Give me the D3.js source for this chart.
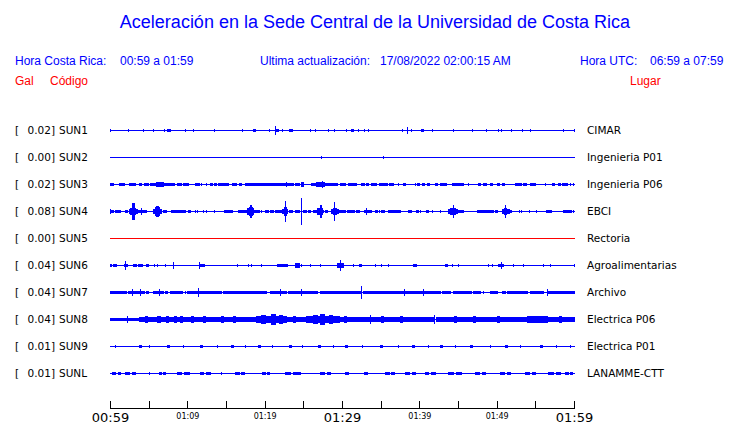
<!DOCTYPE html>
<html><head><meta charset="utf-8">
<script src="https://cdn.jsdelivr.net/npm/d3@7"></script>
<style>
html,body{margin:0;padding:0;background:#fff;}
svg{display:block;}
</style></head>
<body>
<svg id="c" width="740" height="423"></svg>
<script>
// ---- data ----
const codes  = ["SUN1","SUN2","SUN3","SUN4","SUN5","SUN6","SUN7","SUN8","SUN9","SUNL"];
const peaks  = ["0.02","0.00","0.02","0.08","0.00","0.04","0.04","0.04","0.01","0.01"];
const places = ["CIMAR","Ingenieria P01","Ingenieria P06","EBCI","Rectoria","Agroalimentarias","Archivo","Electrica P06","Electrica P01","LANAMME-CTT"];
const tickMinutes = [0,10,20,30,40,50,60];
const tickLabels  = ["00:59","01:09","01:19","01:29","01:39","01:49","01:59"];
// events per station: [start minute, end minute, half amplitude]
const sun1 = [[0,0,1],[2.3,2.3,1],[4.25,4.25,1],[5.5,5.5,1],[7.0,7.0,1],[7.35,7.7,1],[9.7,9.7,1],[10.7,10.7,1],[13.4,13.4,1],[17.1,17.1,1],[18.5,18.8,1],[20.6,20.6,0.7],[21.3,21.3,4],[21.4,21.8,1.3],[22.3,22.3,0.7],[23.1,23.5,1.3],[25.8,25.8,1],[26.5,26.5,0.7],[28.2,28.2,1],[29.0,29.0,1],[30.5,30.5,1],[31.1,31.35,1],[32.1,32.1,0.7],[32.9,32.9,1],[33.4,33.4,0.7],[37.7,37.7,0.7],[38.4,38.4,3],[38.9,38.9,0.7],[40.2,40.5,1],[41.7,41.7,0.7],[44.3,44.3,1],[46.8,46.8,1],[48.6,48.6,1],[50.2,50.2,1],[50.6,50.6,0.7],[51.8,51.8,1],[53.3,53.3,1],[54.3,54.3,1],[58.6,58.6,0.7],[60,60,1]];
const sun2 = [[27.3,27.3,0.7],[35.3,35.3,0.7]];
const sun3 = [[0,0.4,1],[1.1,1.75,1],[2.5,3.3,1.3],[3.7,4.0,1],[4.35,4.9,1.3],[5.2,5.55,1],[5.75,8.35,1.3],[5.95,6.85,1.8],[8.65,9.2,1],[9.4,10.1,1.3],[11.0,11.5,1],[11.8,11.8,0.8],[12.4,12.4,0.8],[12.9,13.1,1],[13.4,13.7,1.3],[13.95,15.25,1.3],[15.8,16.3,1.3],[16.7,16.9,1],[17.4,22.15,1.3],[22.3,23.7,1.3],[22.7,22.7,2],[23.9,24.45,1.3],[24.65,24.85,2.3],[25.95,26.2,1],[26.25,28.85,1.3],[27.35,27.35,3.3],[26.6,27.6,1.8],[28.95,29.35,1.3],[29.7,30.35,1],[30.8,31.8,1.3],[32.4,32.8,1.3],[33.15,33.4,1],[33.7,33.95,1],[34.2,34.45,1],[34.8,35.85,1.3],[36.1,36.6,1.3],[37.25,37.25,0.8],[37.9,38.2,1],[39.4,39.4,1],[39.75,40.05,1],[40.4,40.6,1],[41.05,41.35,1],[42.0,42.3,1],[42.65,43.25,1.3],[43.5,43.5,0.8],[44.25,45.7,1.3],[46.3,46.3,0.8],[47.6,47.85,0.8],[48.2,48.6,1.3],[49.2,49.4,1],[50.1,50.4,1],[50.75,50.95,1],[52.35,53.1,1.3],[53.45,53.9,1],[54.3,54.95,1.3],[56.25,56.25,0.8],[57.1,57.4,1],[57.95,58.2,1],[58.4,59.05,1.3],[59.5,59.5,0.8],[59.9,59.9,1]];
const sun4 = [[0,0.4,1],[0,0,2],[0.6,1.3,1.3],[1.9,2.2,1],[2.45,3.5,1.6],[2.6,3.2,3],[2.8,3.0,8],[3.5,4.7,1.3],[3.95,3.95,3],[5.55,6.6,1.6],[5.8,6.3,3.5],[5.95,6.15,4.5],[6.85,7.05,1],[7.3,7.3,1],[7.9,9.75,1.3],[10.1,10.3,1],[10.95,10.95,1.3],[11.25,11.25,1.3],[12.0,12.0,0.8],[12.35,12.35,0.8],[13.5,13.5,1],[14.8,15.8,1.3],[16.55,18.7,1.3],[17.7,18.5,2.6],[17.95,18.35,4],[18.1,18.2,6],[18.9,19.35,1],[19.55,19.55,0.8],[20.0,20.4,1.3],[20.65,21.1,1],[21.3,21.5,1],[21.7,22.3,1.3],[22.3,23.0,2],[22.5,22.8,3.5],[22.65,22.65,10],[23.2,23.65,1.3],[23.9,24.45,1.3],[24.7,24.7,12.5],[24.9,25.3,1],[25.6,25.8,1],[26.25,27.55,1.3],[26.8,27.5,2.6],[27.15,27.3,5.5],[27.75,27.95,1],[28.6,29.5,1.6],[28.8,29.2,3],[28.95,28.95,9],[29.5,30.35,1.3],[30.6,31.45,1.2],[31.85,32.2,1],[32.8,33.7,1.4],[33.05,33.05,3],[34.25,34.45,1],[34.8,34.8,0.8],[35.1,35.5,1.3],[35.9,37.5,1.3],[38.55,38.95,1],[39.6,39.85,1],[40.15,40.15,0.8],[40.85,41.15,1],[41.6,41.6,0.8],[42.65,42.65,1],[43.7,44.8,1.6],[44.0,44.6,3],[44.3,44.3,6],[45.0,45.7,1.3],[47.4,47.75,1],[47.8,48.9,1.3],[49.1,49.45,1],[49.8,50.0,1],[50.65,51.5,1.6],[50.9,51.2,3],[51.05,51.05,5.5],[51.5,51.9,1.3],[52.9,52.9,0.8],[53.2,53.2,1],[54.2,54.2,1],[55.1,55.1,0.8],[56.4,57.0,1.3],[58.6,59.6,1.3],[59.9,59.9,1]];
const sun5 = [];
const sun6 = [[0,0.15,1],[0.45,0.8,1.3],[1.75,2.2,1.3],[1.9,1.9,4],[2.95,3.3,1.3],[3.6,4.15,1.3],[4.6,4.9,1.3],[5.7,5.7,1.3],[6.05,6.05,1.3],[7.05,7.05,1],[8.1,8.1,2.5],[11.5,12.1,1.3],[11.5,11.5,2.5],[16.45,16.45,1.3],[17.9,17.9,1],[18.25,18.25,0.8],[19.55,19.55,1],[21.6,22.15,1.3],[22.3,22.8,1.3],[22.9,22.9,0.8],[23.9,24.45,1.7],[24.75,24.75,1],[25.8,25.8,1],[27.2,27.2,1],[29.3,30.05,1.6],[29.7,29.7,5],[31.45,31.45,1],[32.2,32.5,1.3],[34.25,34.25,1],[35.0,35.0,1],[35.95,35.95,0.8],[39.2,39.55,1.3],[43.3,43.6,1.3],[44.2,44.2,1.3],[44.95,44.95,1.3],[48.85,48.85,1.3],[49.35,49.35,1.3],[50.2,50.85,1.3],[50.55,50.55,3],[52.05,52.05,0.8],[53.35,53.35,1.3],[55.95,55.95,1],[56.9,56.9,0.8],[60,60,0.8]];
const sun7 = [[0,2.1,1.3],[2.3,3.4,1.3],[2.85,2.85,2.5],[3.9,3.9,3],[3.4,4.45,1.3],[4.7,4.9,0.8],[5.55,6.85,1.3],[6.3,6.3,3],[7.05,7.3,1],[7.8,9.35,1.3],[9.75,9.75,0.8],[9.95,10.95,1.3],[11.35,11.35,4],[10.95,13.75,1.3],[13.95,14.4,0.8],[14.6,20.2,1.3],[20.65,21.5,1.3],[21.95,21.95,3],[21.75,22.8,1.3],[23.0,24.1,1.3],[24.65,24.65,2.5],[24.3,26.7,1.3],[27.1,32.3,1.3],[32.5,32.5,6],[32.75,37.9,1.3],[38.0,38.0,3],[38.1,39.65,1.3],[40.5,40.5,3],[39.85,42.65,1.3],[42.9,43.95,1.3],[44.4,46.75,1.3],[46.95,47.85,1],[48.25,48.25,0.8],[49.1,50.0,0.8],[50.65,51.05,1.3],[51.3,53.9,1.3],[54.3,56.0,1.3],[56.45,56.45,2.5],[56.7,60,1.3]];
const sun8 = [[0,3.8,1.3],[2.2,2.2,2.5],[3.8,6.0,1.7],[4.5,4.7,2.6],[6.0,9.85,1.7],[6.1,6.5,2.6],[7.2,7.5,2.6],[8.3,8.6,3],[9.0,9.3,2.6],[9.85,18.9,1.7],[10.5,10.8,2.6],[12.0,12.3,2.6],[14.3,14.6,2.6],[15.9,16.2,2.6],[18.9,22.8,2.6],[19.5,20.0,4],[20.8,21.3,5],[21.8,22.2,3.5],[22.8,25.4,2],[23.6,23.9,3],[25.4,29.7,2.6],[26.2,26.7,4],[27.1,27.6,5],[28.3,28.7,3.5],[29.7,33.15,1.7],[30.2,30.5,2.6],[33.6,33.6,4],[33.15,41.8,1.7],[35.0,35.3,2.6],[37.5,37.8,2.6],[41.9,41.9,3.5],[42.2,53.9,1.7],[44.5,44.8,2.6],[47.0,47.3,2.6],[50.0,50.3,2.6],[53.9,56.45,2.6],[54.5,55.5,3],[56.45,60,1.7],[58.0,58.3,2.6]];
const sun9 = [[0.6,0.6,1],[3.8,4.0,1],[5.1,5.1,1],[7.4,7.6,1],[9.4,9.4,1],[11.6,11.9,1],[13.9,13.9,1],[15.7,16.0,1],[17.4,17.4,1],[19.1,19.4,1],[20.9,20.9,1],[23.2,23.5,1],[24.8,24.8,1],[26.9,27.2,1],[28.8,28.8,1],[30.4,30.7,1],[32.6,32.6,1],[34.9,35.2,1],[37.2,37.2,1],[39.0,39.3,1],[41.1,41.1,1],[42.7,43.0,1],[44.6,44.6,1],[46.5,46.8,1],[49.1,49.1,1],[51.1,51.4,1],[53.0,53.0,1],[55.6,55.9,1],[57.7,57.7,1],[59.5,59.5,1]];
const sunL = [[0.2,0.6,1],[1.0,1.3,1],[1.9,2.4,1],[2.8,3.2,1],[5.1,5.1,1],[6.3,6.6,1],[6.9,7.1,1],[8.7,9.2,1],[9.6,10.3,1],[11.6,12.0,1],[12.4,12.9,1],[14.4,14.4,1],[16.1,16.6,1],[17.0,17.4,1],[19.6,20.0,1],[20.3,20.6,1],[22.6,23.2,1],[23.6,24.5,1],[27.1,27.6,1],[28.0,28.4,1],[30.4,30.8,1],[32.9,33.3,1],[35.5,36.0,1],[36.4,36.8,1],[38.1,38.6,1],[39.0,39.4,1],[40.7,41.1,1],[41.5,42.0,1],[43.7,44.3,1],[44.8,45.5,1],[47.2,47.7,1],[48.1,48.5,1],[50.4,50.9,1],[51.3,51.7,1],[53.7,54.2,1],[54.6,55.0,1],[56.6,57.2,1],[57.7,58.2,1],[58.8,59.2,1],[59.5,59.7,1]];
const events = [sun1,sun2,sun3,sun4,sun5,sun6,sun7,sun8,sun9,sunL];
const traceColors = ["#0000ff","#0000ff","#0000ff","#0000ff","#ff0000","#0000ff","#0000ff","#0000ff","#0000ff","#0000ff"];

// ---- drawing ----
const svg = d3.select("#c");
const xs = d3.scaleLinear().domain([0,60]).range([110.5,574.5]);
const yBand = d3.scalePoint().domain(codes).range([130.5,373.5]);
const amp = d3.scaleLinear().domain([0,10]).range([0,10]);
const ampPx = v => Math.max(0, Math.round(amp(v)));

const SANS = "'Liberation Sans', Arial, Helvetica, sans-serif";
const DJ = "'DejaVu Sans', sans-serif";

svg.append("text").attr("x",375).attr("y",28).attr("text-anchor","middle")
  .attr("font-family",SANS).attr("font-size",18).attr("fill","#0000ff")
  .text("Aceleración en la Sede Central de la Universidad de Costa Rica");

const hdr = [[15,"Hora Costa Rica:"],[120,"00:59 a 01:59"],[260,"Ultima actualización:"],[380,"17/08/2022 02:00:15 AM"],[580,"Hora UTC:"],[650,"06:59 a 07:59"]];
svg.selectAll("text.h").data(hdr).join("text").attr("class","h")
  .attr("x",d=>d[0]).attr("y",65).attr("font-family",SANS).attr("font-size",12).attr("fill","#0000ff").text(d=>d[1]);
const hdr2 = [[15,"Gal"],[50,"Código"],[630,"Lugar"]];
svg.selectAll("text.h2").data(hdr2).join("text").attr("class","h2")
  .attr("x",d=>d[0]).attr("y",85).attr("font-family",SANS).attr("font-size",12).attr("fill","#ff0000").text(d=>d[1]);

const rows = svg.selectAll("g.row").data(codes).join("g").attr("class","row");
rows.append("text").attr("x",15).attr("y",c=>yBand(c)+3.5).attr("font-family",DJ).attr("font-size",10.5).attr("fill","#000").text("[");
rows.append("text").attr("x",55).attr("y",c=>yBand(c)+3.5).attr("text-anchor","end").attr("font-family",DJ).attr("font-size",10.5).attr("fill","#000").text((c,i)=>peaks[i]+"]");
rows.append("text").attr("x",59).attr("y",c=>yBand(c)+3.5).attr("font-family",DJ).attr("font-size",10.5).attr("fill","#000").text(c=>c);
rows.append("text").attr("x",587).attr("y",c=>yBand(c)+3.5).attr("font-family",DJ).attr("font-size",10.5).attr("fill","#000").text((c,i)=>places[i]);

rows.append("line").attr("x1",xs(0)-0.5).attr("x2",xs(60)+0.5)
  .attr("y1",c=>yBand(c)).attr("y2",c=>yBand(c))
  .attr("stroke",(c,i)=>traceColors[i]).attr("stroke-width",1).attr("shape-rendering","crispEdges");

rows.each(function(c,i){
  d3.select(this).selectAll("rect").data(events[i]).join("rect")
    .attr("x",d=>Math.round(xs(d[0])-0.5))
    .attr("width",d=>Math.max(1,Math.round(xs(d[1])-xs(d[0]))+1))
    .attr("y",d=>yBand(c)-0.5-ampPx(d[2]))
    .attr("height",d=>2*ampPx(d[2])+1)
    .attr("fill",traceColors[i]).attr("shape-rendering","crispEdges");
});

const ax = d3.axisTop(xs).tickValues(d3.range(0,61,5)).tickSize(8).tickSizeOuter(0).tickFormat("").offset(0);
const axG = svg.append("g").attr("transform","translate(0,408.5)").call(ax);
axG.select(".domain").attr("stroke","#000").attr("shape-rendering","crispEdges");
axG.selectAll(".tick line").attr("stroke","#000").attr("shape-rendering","crispEdges");

svg.selectAll("text.tl").data(tickMinutes).join("text").attr("class","tl")
  .attr("x",d=>xs(d)).attr("y",(d)=>d%30===0?421.5:418.5).attr("text-anchor","middle")
  .attr("font-family",DJ).attr("font-size",d=>d%30===0?13:8).attr("fill","#000")
  .text((d,i)=>tickLabels[i]);
</script>
</body></html>
